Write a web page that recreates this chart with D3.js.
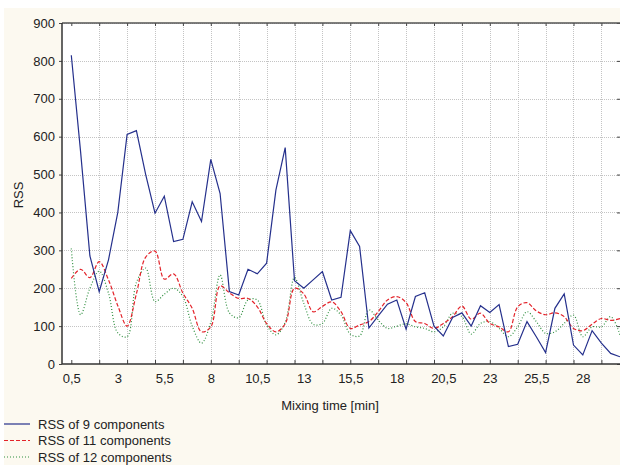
<!DOCTYPE html>
<html>
<head>
<meta charset="utf-8">
<script src="https://cdn.jsdelivr.net/npm/d3@7"></script>
<style>
  html, body { margin: 0; padding: 0; background: #ffffff; }
  svg { display: block; }
  text { font-family: "Liberation Sans", Arial, sans-serif; fill: #222; }
</style>
</head>
<body>
<svg id="chart" width="620" height="465"></svg>
<script>
// Mixing time in minutes (one reading every 0.5 min)
const times = d3.range(1, 61).map(i => i * 0.5);

// Residual sum of squares for each model size
const rss9 = [815, 560, 285, 191, 275, 400, 606, 616, 500, 398,
              443, 323, 329, 428, 376, 540, 450, 191, 182, 250,
              238, 266, 459, 571, 220, 200, 222, 244, 169, 176,
              352, 310, 95, 127, 158, 169, 92, 178, 188, 100,
              74, 123, 135, 100, 154, 136, 157, 46, 52, 112,
              72, 30, 147, 185, 50, 24, 88, 55, 28, 19];
const rss11 = [226, 250, 228, 270, 222, 154, 100, 185, 282, 298,
               224, 238, 187, 147, 85, 98, 206, 188, 173, 173,
               151, 107, 85, 106, 200, 185, 138, 152, 164, 138,
               94, 103, 112, 138, 169, 178, 162, 112, 107, 94,
               107, 125, 153, 118, 134, 107, 98, 85, 151, 162,
               140, 130, 135, 125, 94, 88, 105, 120, 115, 120];
const rss12 = [305, 130, 200, 245, 187, 82, 72, 215, 253, 165,
               184, 200, 178, 100, 55, 110, 235, 135, 122, 169,
               169, 103, 77, 110, 228, 160, 105, 107, 147, 129,
               79, 74, 143, 116, 94, 100, 106, 98, 94, 85,
               98, 134, 125, 79, 107, 112, 94, 72, 98, 138,
               112, 81, 85, 107, 129, 72, 98, 98, 125, 77];

const seriesNames = ["RSS of 9 components", "RSS of 11 components", "RSS of 12 components"];
const yTicks = [0, 100, 200, 300, 400, 500, 600, 700, 800, 900];
const xGridTicks = d3.range(0, 20).map(k => 0.5 + 1.5 * k);
const xLabelTicks = d3.range(0, 12).map(k => 0.5 + 2.5 * k);

const svg = d3.select("#chart");
const W = 620, H = 465;
const plot = { left: 62, right: 620, top: 23, bottom: 364 };

// page background: thin white frame, cream panel
svg.append("rect").attr("width", W).attr("height", H).attr("fill", "#ffffff");
svg.append("rect").attr("x", 4).attr("y", 8).attr("width", W - 4).attr("height", H - 8)
   .attr("fill", "#fcf9f0");
svg.append("rect").attr("x", plot.left).attr("y", plot.top)
   .attr("width", plot.right - plot.left).attr("height", plot.bottom - plot.top)
   .attr("fill", "#ffffff");

const x = d3.scaleLinear().domain([0, 30]).range([plot.left, plot.right]);
const y = d3.scaleLinear().domain([0, 900]).range([plot.bottom, plot.top]);

// grid
const grid = svg.append("g").attr("stroke", "#c4c4c4").attr("stroke-width", 1)
   .attr("stroke-dasharray", "1,1").attr("shape-rendering", "crispEdges");
grid.selectAll("line.h").data(yTicks.slice(1)).join("line")
   .attr("x1", plot.left).attr("x2", plot.right)
   .attr("y1", d => Math.round(y(d)) + 0.5).attr("y2", d => Math.round(y(d)) + 0.5);
grid.selectAll("line.v").data(xGridTicks.slice(1)).join("line")
   .attr("y1", plot.top).attr("y2", plot.bottom)
   .attr("x1", d => Math.round(x(d)) + 0.5).attr("x2", d => Math.round(x(d)) + 0.5);

// series
svg.append("clipPath").attr("id", "clip").append("rect")
   .attr("x", plot.left).attr("y", plot.top)
   .attr("width", plot.right - plot.left).attr("height", plot.bottom - plot.top);

const series = [
  { values: rss9,  color: "#25308c", dash: null,  width: 1.2, curve: d3.curveLinear },
  { values: rss11, color: "#e3232a", dash: "4,2", width: 1.2, curve: d3.curveCatmullRom },
  { values: rss12, color: "#2f8f3f", dash: "1,2", width: 1.2, curve: d3.curveCatmullRom }
];
const lines = svg.append("g").attr("clip-path", "url(#clip)");
series.slice().reverse().forEach(s => {
  const gen = d3.line().x((d, i) => x(times[i])).y(d => y(d)).curve(s.curve);
  lines.append("path").datum(s.values).attr("d", gen)
     .attr("fill", "none").attr("stroke", s.color).attr("stroke-width", s.width)
     .attr("stroke-dasharray", s.dash);
});

// axes
const axisColor = "#444";
const left = svg.append("g").attr("transform", `translate(${plot.left},0)`)
   .call(d3.axisLeft(y).tickValues(yTicks).tickSize(3).tickPadding(4));
left.select(".domain").remove();
left.selectAll("line").attr("stroke", axisColor);
left.selectAll("text").style("font-size", "13px").attr("fill", "#222");

const right = svg.append("g").attr("transform", `translate(${plot.right},0)`)
   .call(d3.axisLeft(y).tickValues(yTicks).tickSize(3).tickFormat(""));
right.select(".domain").remove();
right.selectAll("line").attr("stroke", axisColor).attr("x2", -3).attr("x1", 0);

const bottomTicks = svg.append("g").attr("transform", `translate(0,${plot.bottom})`)
   .call(d3.axisTop(x).tickValues(xGridTicks).tickSize(4).tickFormat(""));
bottomTicks.select(".domain").remove();
bottomTicks.selectAll("line").attr("stroke", axisColor);

const topTicks = svg.append("g").attr("transform", `translate(0,${plot.top})`)
   .call(d3.axisBottom(x).tickValues(xGridTicks).tickSize(3).tickFormat(""));
topTicks.select(".domain").remove();
topTicks.selectAll("line").attr("stroke", axisColor);

const commaFmt = d => String(d).replace(".", ",");
const bottomLabels = svg.append("g").attr("transform", `translate(0,${plot.bottom})`)
   .call(d3.axisBottom(x).tickValues(xLabelTicks).tickSize(0).tickPadding(10).tickFormat(commaFmt));
bottomLabels.select(".domain").remove();
bottomLabels.selectAll("text").style("font-size", "13px").attr("fill", "#222");

// frame
const frame = svg.append("g").attr("stroke", "#555").attr("stroke-width", 1.5).attr("fill", "none");
frame.append("line").attr("x1", plot.left).attr("x2", plot.right).attr("y1", plot.top).attr("y2", plot.top);
frame.append("line").attr("x1", plot.left).attr("x2", plot.right).attr("y1", plot.bottom).attr("y2", plot.bottom).attr("stroke", "#333");
frame.append("line").attr("x1", plot.left).attr("x2", plot.left).attr("y1", plot.top).attr("y2", plot.bottom).attr("stroke", "#333");

// axis titles
svg.append("text").attr("x", 330).attr("y", 410).attr("text-anchor", "middle")
   .style("font-size", "13px").text("Mixing time [min]");
svg.append("text").attr("transform", "translate(23,195) rotate(-90)").attr("text-anchor", "middle")
   .style("font-size", "13px").text("RSS");

// legend
const legend = svg.append("g");
series.forEach((s, i) => {
  const ly = 424 + i * 16.5;
  legend.append("line").attr("x1", 4).attr("x2", 30).attr("y1", ly).attr("y2", ly)
     .attr("stroke", s.color).attr("stroke-width", 1.2).attr("stroke-dasharray", s.dash);
  legend.append("text").attr("x", 38).attr("y", ly + 4.5).style("font-size", "13px")
     .text(seriesNames[i]);
});
</script>
</body>
</html>
